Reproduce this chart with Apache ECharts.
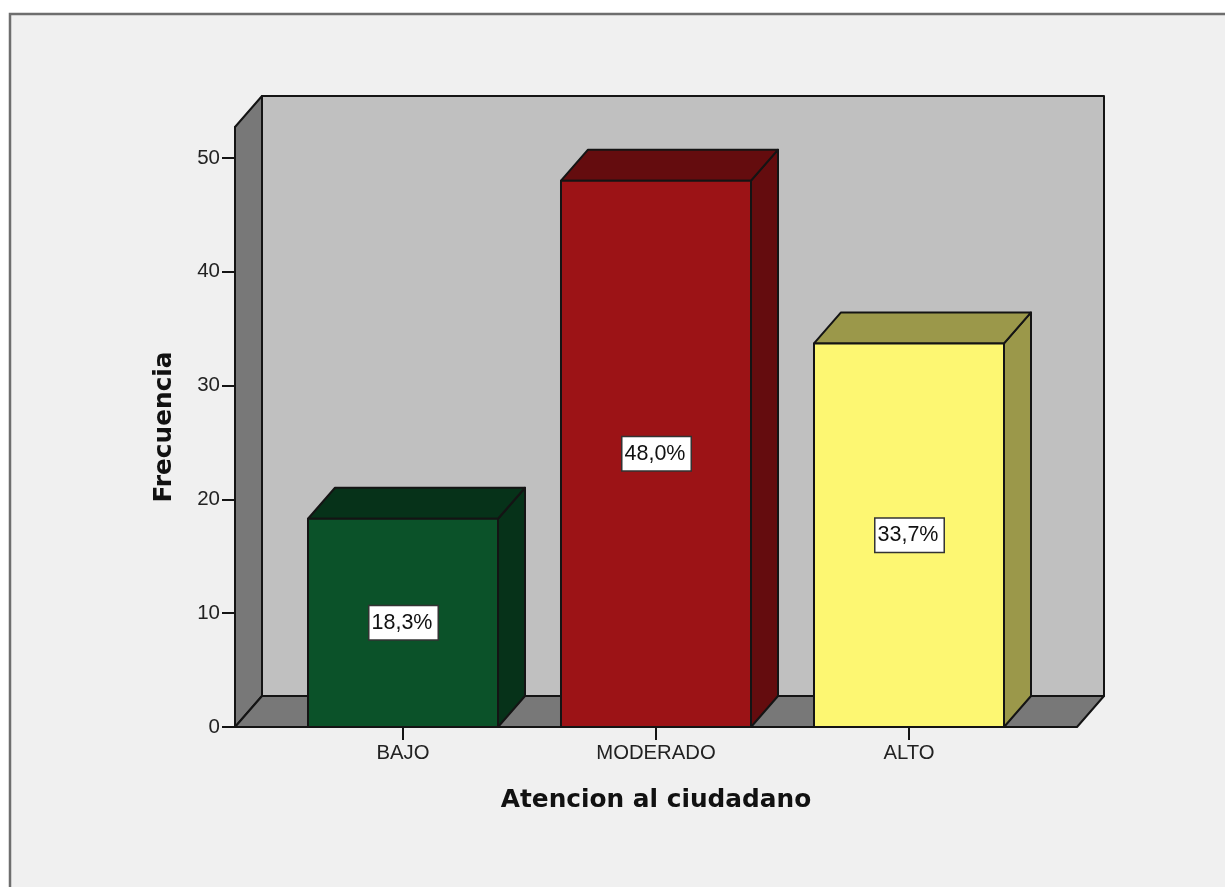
<!DOCTYPE html>
<html>
<head>
<meta charset="utf-8">
<style>html,body{margin:0;padding:0;background:#fff;overflow:hidden}#c{width:1225px;height:887px}</style>
<script src="https://cdn.jsdelivr.net/npm/echarts@6/dist/echarts.min.js"></script>
</head>
<body>
<div id="c"></div>
<script>
const categories = ['BAJO', 'MODERADO', 'ALTO'];
const percents = [18.3, 48.0, 33.7];
const percentLabels = ['18,3%', '48,0%', '33,7%'];
const frontColors = ['#0b5229', '#9c1316', '#fdf772'];
const sideColors = ['#063219', '#640c0e', '#9b984a'];
const yTicks = [0, 10, 20, 30, 40, 50];
const yMax = 52.72;

const DX = 27, DY = 31, SIDE_PAD = 41.5, LINE = '#141414', FONT = '"Liberation Sans", Arial, sans-serif';
const TITLE_FONT = '"DejaVu Sans", "Liberation Sans", sans-serif';
const edge = { stroke: LINE, lineWidth: 2, lineJoin: 'round' };
const poly = (points, fill) => ({ type: 'polygon', shape: { points }, style: { fill, ...edge } });

function renderWalls(params, api) {
  const bl = api.coord([0, 0]), tl = api.coord([0, yMax]), br = api.coord([categories.length - 1, 0]);
  const band = api.size([1, 0])[0];
  const x0 = bl[0] - band / 2 - SIDE_PAD, x1 = br[0] + band / 2 + SIDE_PAD;
  const y0 = bl[1], y1 = tl[1];
  return { type: 'group', silent: true, children: [
    poly([[x0 + DX, y0 - DY], [x1 + DX, y0 - DY], [x1 + DX, y1 - DY], [x0 + DX, y1 - DY]], '#c0c0c0'),
    poly([[x0, y0], [x0 + DX, y0 - DY], [x0 + DX, y1 - DY], [x0, y1]], '#787878'),
    poly([[x0, y0], [x1, y0], [x1 + DX, y0 - DY], [x0 + DX, y0 - DY]], '#787878')
  ]};
}

function renderBar(params, api) {
  const i = api.value(0), v = api.value(1);
  const b = api.coord([i, 0]), t = api.coord([i, v]);
  const w = api.size([1, 0])[0] * 0.751;
  const l = b[0] - w / 2, r = b[0] + w / 2, y0 = b[1], y1 = t[1];
  return { type: 'group', children: [
    poly([[r, y0], [r + DX, y0 - DY], [r + DX, y1 - DY], [r, y1]], sideColors[i]),
    poly([[l, y1], [l + DX, y1 - DY], [r + DX, y1 - DY], [r, y1]], sideColors[i]),
    poly([[l, y0], [r, y0], [r, y1], [l, y1]], frontColors[i]),
    { type: 'text', x: b[0] + 0.5, y: (y0 + y1) / 2, style: {
        text: percentLabels[i], x: 0, y: 0, align: 'center', verticalAlign: 'middle',
        font: '21.5px ' + FONT, fill: '#111', backgroundColor: '#fff',
        borderColor: '#333', borderWidth: 1.5, padding: [6, 5, 5, 2] } }
  ]};
}

const chart = echarts.init(document.getElementById('c'), null, { renderer: 'canvas' });
chart.setOption({
  animation: false,
  backgroundColor: '#ffffff',
  graphic: [{ type: 'rect', z: -10, silent: true, shape: { x: 10, y: 14, width: 1300, height: 950 },
    style: { fill: '#f0f0f0', stroke: '#6e6e6e', lineWidth: 2.5 } }],
  grid: { left: 276.5, top: 127, width: 759, height: 600 },
  xAxis: {
    type: 'category', data: categories, z: 5,
    axisLine: { show: false },
    axisTick: { show: true, alignWithLabel: true, length: 13, lineStyle: { color: LINE, width: 2 } },
    axisLabel: { margin: 16, fontFamily: FONT, fontSize: 20.3, color: '#222' },
    name: 'Atencion al ciudadano', nameLocation: 'middle', nameGap: 61,
    nameTextStyle: { fontFamily: TITLE_FONT, fontSize: 24.8, fontWeight: 'bold', color: '#111' }
  },
  yAxis: {
    type: 'value', min: 0, max: yMax, offset: SIDE_PAD, z: 5,
    splitLine: { show: false },
    axisLine: { show: true, lineStyle: { color: LINE, width: 2 } },
    axisTick: { show: true, length: 13, customValues: yTicks, lineStyle: { color: LINE, width: 2 } },
    axisLabel: { margin: 15, fontFamily: FONT, fontSize: 20.5, color: '#222', customValues: yTicks },
    name: 'Frecuencia', nameLocation: 'middle', nameGap: 58,
    nameTextStyle: { fontFamily: TITLE_FONT, fontSize: 24.8, fontWeight: 'bold', color: '#111' }
  },
  series: [
    { type: 'custom', z: 1, clip: false, silent: true, renderItem: renderWalls, data: [[0, 0]], encode: { x: 0, y: 1 } },
    { type: 'custom', z: 3, clip: false, renderItem: renderBar, data: percents.map((v, i) => [i, v]), encode: { x: 0, y: 1 } }
  ]
});
</script>
</body>
</html>
